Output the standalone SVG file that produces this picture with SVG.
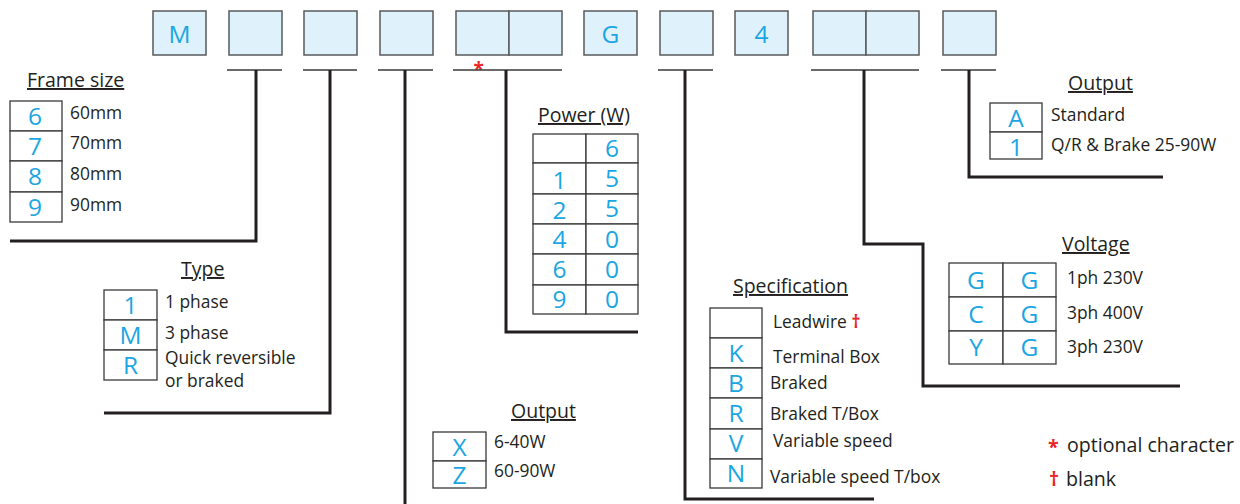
<svg xmlns="http://www.w3.org/2000/svg" width="1240" height="504" viewBox="0 0 1240 504">
<style>
.bg{fill:#ffffff}
.top{fill:#dff1fa;stroke:#58595b;stroke-width:1.5}
.cell{fill:#ffffff;stroke:#3a3a3a;stroke-width:1.3}
.tick{fill:none;stroke:#3a3a3a;stroke-width:1.4}
.con{fill:none;stroke:#231f20;stroke-width:3}
.big{font-family:"Open Sans","DejaVu Sans",sans-serif;font-size:24.5px;fill:#1ba6e3;text-anchor:middle}
.lbl{font-family:"Open Sans","DejaVu Sans",sans-serif;font-size:17.4px;fill:#231f20}
.hd{font-family:"Open Sans","DejaVu Sans",sans-serif;font-size:19.5px;fill:#231f20;text-decoration:underline}
.leg{font-family:"Open Sans","DejaVu Sans",sans-serif;font-size:19.6px;fill:#231f20}
.red{fill:#e8262a;font-weight:bold}
</style>
<rect class="bg" x="0" y="0" width="1240" height="504"/>

<g id="code-boxes">
  <rect class="top" x="153" y="11" width="53" height="44"/>
  <text class="big" x="179.5" y="43">M</text>
  <rect class="top" x="229" y="11" width="53" height="44"/>
  <rect class="top" x="304" y="11" width="53" height="44"/>
  <rect class="top" x="380" y="11" width="53" height="44"/>
  <rect class="top" x="456" y="11" width="53" height="44"/>
  <rect class="top" x="509" y="11" width="53" height="44"/>
  <rect class="top" x="584" y="11" width="53" height="44"/>
  <text class="big" x="610.5" y="43">G</text>
  <rect class="top" x="660" y="11" width="53" height="44"/>
  <rect class="top" x="735" y="11" width="53" height="44"/>
  <text class="big" x="761.5" y="43">4</text>
  <rect class="top" x="813" y="11" width="53" height="44"/>
  <rect class="top" x="866" y="11" width="53" height="44"/>
  <rect class="top" x="943" y="11" width="53" height="44"/>
  <text class="leg red" x="473.5" y="76" style="font-size:19px">*</text>
</g>

<g id="connectors">
  <path class="tick" d="M227,70H282M303,70H357M378,70H433M453,70H562M658,70H713M811,70H919M941,70H996"/>
  <path class="con" d="M256,70V241H10"/>
  <path class="con" d="M330,70V413H104"/>
  <path class="con" d="M405,70V504"/>
  <path class="con" d="M506,70V332H638"/>
  <path class="con" d="M685,70V499H874"/>
  <path class="con" d="M864,70V244H923V386H1180"/>
  <path class="con" d="M969,70V177H1163"/>
</g>

<g id="frame-size">
  <text class="hd" x="27" y="87">Frame size</text>
  <rect class="cell" x="10" y="101" width="52" height="30"/>
  <rect class="cell" x="10" y="131" width="52" height="30"/>
  <rect class="cell" x="10" y="161" width="52" height="31"/>
  <rect class="cell" x="10" y="192" width="52" height="30"/>
  <text class="big" x="35" y="125">6</text>
  <text class="big" x="35" y="155">7</text>
  <text class="big" x="35" y="185">8</text>
  <text class="big" x="35" y="216">9</text>
  <text class="lbl" x="70" y="119">60mm</text>
  <text class="lbl" x="70" y="149">70mm</text>
  <text class="lbl" x="70" y="180">80mm</text>
  <text class="lbl" x="70" y="211">90mm</text>
</g>

<g id="type">
  <text class="hd" x="181" y="276">Type</text>
  <rect class="cell" x="104" y="290" width="53" height="30"/>
  <rect class="cell" x="104" y="320" width="53" height="30"/>
  <rect class="cell" x="104" y="350" width="53" height="30"/>
  <text class="big" x="130.5" y="314">1</text>
  <text class="big" x="130.5" y="344">M</text>
  <text class="big" x="130.5" y="374">R</text>
  <text class="lbl" x="165" y="308">1 phase</text>
  <text class="lbl" x="165" y="339">3 phase</text>
  <text class="lbl" x="165" y="364">Quick reversible</text>
  <text class="lbl" x="165" y="387">or braked</text>
</g>

<g id="power">
  <text class="hd" x="538" y="122">Power (W)</text>
  <rect class="cell" x="533" y="134" width="53" height="29"/>
  <rect class="cell" x="586" y="134" width="52" height="29"/>
  <rect class="cell" x="533" y="163" width="53" height="31"/>
  <rect class="cell" x="586" y="163" width="52" height="31"/>
  <rect class="cell" x="533" y="194" width="53" height="30"/>
  <rect class="cell" x="586" y="194" width="52" height="30"/>
  <rect class="cell" x="533" y="224" width="53" height="30"/>
  <rect class="cell" x="586" y="224" width="52" height="30"/>
  <rect class="cell" x="533" y="254" width="53" height="31"/>
  <rect class="cell" x="586" y="254" width="52" height="31"/>
  <rect class="cell" x="533" y="285" width="53" height="29"/>
  <rect class="cell" x="586" y="285" width="52" height="29"/>
  <text class="big" x="612" y="157">6</text>
  <text class="big" x="559.5" y="189">1</text><text class="big" x="612" y="187">5</text>
  <text class="big" x="559.5" y="219">2</text><text class="big" x="612" y="217">5</text>
  <text class="big" x="559.5" y="248">4</text><text class="big" x="612" y="248">0</text>
  <text class="big" x="559.5" y="278">6</text><text class="big" x="612" y="278">0</text>
  <text class="big" x="559.5" y="308">9</text><text class="big" x="612" y="308">0</text>
</g>

<g id="output-xz">
  <text class="hd" x="511" y="418">Output</text>
  <rect class="cell" x="433" y="432" width="53" height="29"/>
  <rect class="cell" x="433" y="461" width="53" height="27"/>
  <text class="big" x="459.5" y="456">X</text>
  <text class="big" x="459.5" y="484">Z</text>
  <text class="lbl" x="494" y="448">6-40W</text>
  <text class="lbl" x="494" y="477">60-90W</text>
</g>

<g id="specification">
  <text class="hd" x="733" y="293">Specification</text>
  <rect class="cell" x="710" y="308" width="52" height="30"/>
  <rect class="cell" x="710" y="338" width="52" height="30"/>
  <rect class="cell" x="710" y="368" width="52" height="30"/>
  <rect class="cell" x="710" y="398" width="52" height="31"/>
  <rect class="cell" x="710" y="429" width="52" height="30"/>
  <rect class="cell" x="710" y="459" width="52" height="29"/>
  <text class="big" x="736" y="362">K</text>
  <text class="big" x="736" y="392">B</text>
  <text class="big" x="736" y="422">R</text>
  <text class="big" x="736" y="452">V</text>
  <text class="big" x="736" y="482">N</text>
  <text class="lbl" x="773" y="328">Leadwire <tspan class="red">†</tspan></text>
  <text class="lbl" x="773" y="363">Terminal Box</text>
  <text class="lbl" x="770" y="389">Braked</text>
  <text class="lbl" x="770" y="420">Braked T/Box</text>
  <text class="lbl" x="773" y="447">Variable speed</text>
  <text class="lbl" x="770" y="483">Variable speed T/box</text>
</g>

<g id="voltage">
  <text class="hd" x="1062" y="251">Voltage</text>
  <rect class="cell" x="949" y="263" width="54" height="34"/>
  <rect class="cell" x="1003" y="263" width="53" height="34"/>
  <rect class="cell" x="949" y="297" width="54" height="34"/>
  <rect class="cell" x="1003" y="297" width="53" height="34"/>
  <rect class="cell" x="949" y="331" width="54" height="33"/>
  <rect class="cell" x="1003" y="331" width="53" height="33"/>
  <text class="big" x="976" y="289">G</text><text class="big" x="1029.5" y="289">G</text>
  <text class="big" x="976" y="323">C</text><text class="big" x="1029.5" y="323">G</text>
  <text class="big" x="976" y="356">Y</text><text class="big" x="1029.5" y="356">G</text>
  <text class="lbl" x="1067" y="284">1ph 230V</text>
  <text class="lbl" x="1067" y="319">3ph 400V</text>
  <text class="lbl" x="1067" y="353">3ph 230V</text>
</g>

<g id="output-a1">
  <text class="hd" x="1068" y="90">Output</text>
  <rect class="cell" x="990" y="103" width="52" height="29"/>
  <rect class="cell" x="990" y="132" width="52" height="27"/>
  <text class="big" x="1016" y="127">A</text>
  <text class="big" x="1016" y="156">1</text>
  <text class="lbl" x="1051" y="121">Standard</text>
  <text class="lbl" x="1051" y="151">Q/R &amp; Brake 25-90W</text>
</g>

<g id="legend">
  <text class="leg red" x="1048" y="454">*</text>
  <text class="leg" x="1067" y="452">optional character</text>
  <text class="leg red" x="1049" y="486">†</text>
  <text class="leg" x="1066" y="486">blank</text>
</g>
</svg>
